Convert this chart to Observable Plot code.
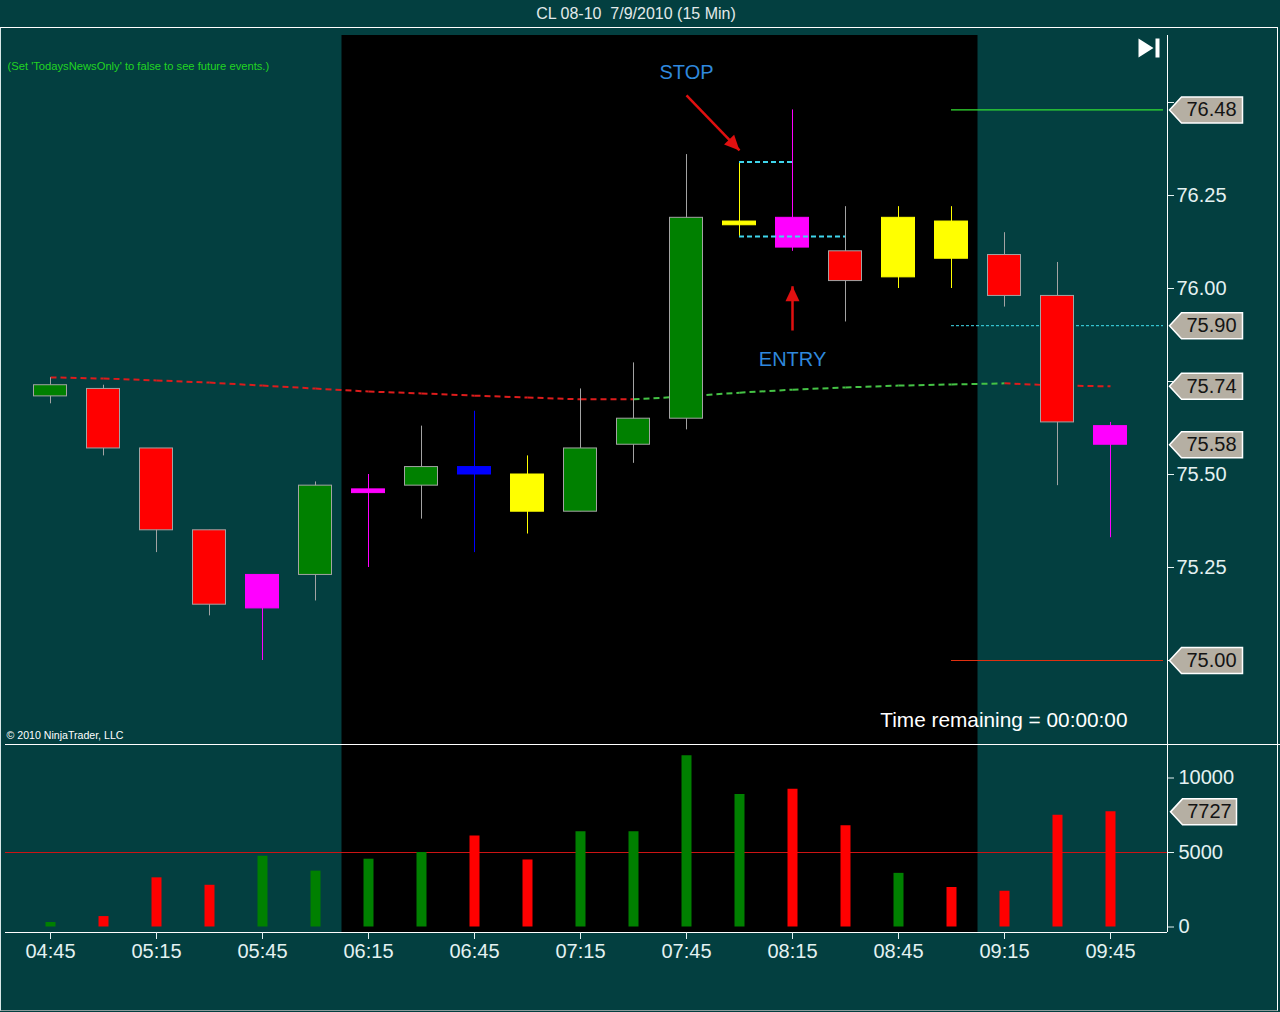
<!DOCTYPE html>
<html>
<head>
<meta charset="utf-8">
<script src="https://cdn.jsdelivr.net/npm/d3@7"></script>
<script src="https://cdn.jsdelivr.net/npm/@observablehq/plot@0.6"></script>
<style>
  html, body { margin: 0; padding: 0; background: #033f40; }
  body { width: 1280px; height: 1012px; overflow: hidden; font-family: Arial, "Liberation Sans", sans-serif; }
  #root { position: relative; width: 1280px; height: 1012px; }
  #title { position: absolute; left: 0; top: 0; width: 1272px; height: 27px; line-height: 27px; text-align: center; color: #e2eaea; font-size: 16px; }
  #frame { position: absolute; left: 0; top: 27px; width: 1276px; height: 982px; border-top: 1px solid #ffffff; border-left: 1px solid #d8e8e8; border-right: 1px solid #ffffff; border-bottom: 1px solid #8a9a9a; }
  #sep { position: absolute; left: 5px; top: 744px; width: 1275px; height: 1px; background: #ffffff; }
  #price { position: absolute; left: 0; top: 27px; }
  #volume { position: absolute; left: 0; top: 745px; }
</style>
</head>
<body>
<div id="root">
  <div id="title">CL 08-10&nbsp; 7/9/2010 (15 Min)</div>
  <div id="frame"></div>
  <div id="price"></div>
  <div id="sep"></div>
  <div id="volume"></div>
</div>
<script>
// ---------- data ----------
const times  = ["04:45","05:00","05:15","05:30","05:45","06:00","06:15","06:30","06:45","07:00","07:15",
                "07:30","07:45","08:00","08:15","08:30","08:45","09:00","09:15","09:30","09:45"];
const open   = [75.71,75.73,75.57,75.35,75.14,75.23,75.45,75.47,75.52,75.50,75.40,75.58,75.65,76.17,76.19,76.10,76.03,76.18,76.09,75.98,75.63];
const high   = [75.76,75.74,75.57,75.35,75.23,75.48,75.50,75.63,75.67,75.55,75.73,75.80,76.36,76.34,76.48,76.22,76.22,76.22,76.15,76.07,75.64];
const low    = [75.69,75.55,75.29,75.12,75.00,75.16,75.25,75.38,75.29,75.34,75.40,75.53,75.62,76.14,76.10,75.91,76.00,76.00,75.95,75.47,75.33];
const close  = [75.74,75.57,75.35,75.15,75.23,75.47,75.46,75.52,75.50,75.40,75.57,75.65,76.19,76.18,76.11,76.02,76.19,76.08,75.98,75.64,75.58];
const barPaint = ["up","down","down","down","magenta","up","magenta","up","blue","yellow","up",
                  "up","up","yellow","magenta","down","yellow","yellow","down","down","magenta"];
const volume = [300,700,3300,2800,4750,3750,4550,5000,6100,4500,6400,6400,11500,8900,9250,6800,3600,2650,2400,7500,7727];
const maValues = [75.761,75.758,75.753,75.747,75.739,75.731,75.723,75.718,75.712,75.707,75.702,
                  75.702,75.710,75.720,75.728,75.734,75.739,75.742,75.745,75.739,75.737];

const priceTicks  = [75.00,75.25,75.50,75.75,76.00,76.25,76.50];
const volumeTicks = [0,5000,10000];
const timeTicks   = ["04:45","05:15","05:45","06:15","06:45","07:15","07:45","08:15","08:45","09:15","09:45"];

const session     = {from: "06:07:30", to: "09:07:30"};
const pivotLevel  = 75.90;
const levelSpan   = {from: "09:00", to: "10:00"};
const volumeRef   = 5000;
const stopBracket = [{price: 76.34, from: "08:00", to: "08:15"},
                     {price: 76.14, from: "08:00", to: "08:30"}];
const notes  = [{text: "STOP",  time: "07:45", price: 76.58},
                {text: "ENTRY", time: "08:15", price: 75.81}];
const arrows = [{t1: "07:45", p1: 76.519, t2: "08:00", p2: 76.371},
                {t1: "08:15", p1: 75.887, t2: "08:15", p2: 76.006}];

// ---------- helpers ----------
const parse = s => { const [h, m, sec] = s.split(":").map(Number); return new Date(Date.UTC(2010, 6, 9, h, m, sec || 0)); };
const candles = times.map((s, i) => ({t: parse(s), o: open[i], h: high[i], l: low[i], c: close[i], paint: barPaint[i], v: volume[i], ma: maValues[i]}));

// layout constants (pixels)
const msPerPx = 15 * 60000 / 53;       // 53 px per 15-minute bar
const pxPerPrice = 372;                // px per 1.00 price
const xDomain = [new Date(+candles[0].t - 45 * msPerPx), new Date(+candles[candles.length - 1].t + 57 * msPerPx)];
const yPriceDomain = [76 - 456 / pxPerPrice, 76 + 253 / pxPerPrice];
const yVolDomain = [-5.5 / 0.0149, 181.5 / 0.0149];
const HALF = 16.5 * msPerPx;

const PAINT = {up: "#008000", down: "#ff0000", magenta: "#ff00ff", yellow: "#ffff00", blue: "#0000ff"};
const outline = d => (d.paint === "up" || d.paint === "down") ? "#a3a3a3" : PAINT[d.paint];
const TXT = "#e4f2f2";
const FONT = "Arial, 'Liberation Sans', sans-serif";

const sessionHigh = d3.max(high);
const sessionLow  = d3.min(low);
const maLast = maValues[maValues.length - 1];
const lastClose = close[close.length - 1];
const lastVolume = volume[volume.length - 1];
const priceTags = [sessionHigh, pivotLevel, maLast, lastClose, sessionLow];
// tick labels that sit underneath a price tag are hidden (the tag covers them)
const covered = v => priceTags.some(p => Math.abs(p - v) * pxPerPrice < 14);

const maSegs = d3.pairs(candles).map(([a, b]) => ({t1: a.t, t2: b.t, v1: a.ma, v2: b.ma}));

const tagSymbol = w => ({draw(ctx) { ctx.moveTo(0, 0); ctx.lineTo(12, -13); ctx.lineTo(w, -13); ctx.lineTo(w, 13); ctx.lineTo(12, 13); ctx.closePath(); }});
const headSymbol = {draw(ctx) { ctx.moveTo(0, 0); ctx.lineTo(7, 15); ctx.lineTo(-7, 15); ctx.closePath(); }};
const iconSymbol = {draw(ctx) { ctx.moveTo(-10.5, -9.5); ctx.lineTo(4.5, 0); ctx.lineTo(-10.5, 9.5); ctx.closePath(); ctx.rect(6.5, -9.5, 4, 19); }};
const arrowAngle = d => {
  const dx = (parse(d.t2) - parse(d.t1)) / msPerPx;
  const dy = (d.p1 - d.p2) * pxPerPrice;
  return Math.atan2(dx, -dy) * 180 / Math.PI;
};

const style = {background: "transparent", color: TXT, fontFamily: FONT, overflow: "visible"};

// ---------- price panel ----------
const priceChart = Plot.plot({
  width: 1280, height: 718,
  marginLeft: 5, marginRight: 113, marginTop: 8, marginBottom: 1,
  style,
  x: {type: "utc", domain: xDomain, axis: null, label: null},
  y: {domain: yPriceDomain, label: null},
  color: {type: "identity"},
  marks: [
    Plot.rect([session], {x1: d => parse(d.from), x2: d => parse(d.to), fill: "#000000"}),
    Plot.ruleY([sessionHigh], {x1: () => parse(levelSpan.from), x2: () => parse(levelSpan.to), stroke: "#33e033", strokeWidth: 1.2}),
    Plot.ruleY([pivotLevel], {x1: () => parse(levelSpan.from), x2: () => parse(levelSpan.to), stroke: "#40e0f0", strokeWidth: 1, strokeDasharray: "3,2"}),
    Plot.ruleY([sessionLow], {x1: () => parse(levelSpan.from), x2: () => parse(levelSpan.to), stroke: "#e03010", strokeWidth: 1.2}),
    Plot.link(maSegs, {x1: "t1", y1: "v1", x2: "t2", y2: "v2", stroke: d => d.v2 > d.v1 ? "#45c245" : "#dd1c1c", strokeWidth: 2, strokeDasharray: "6,4"}),
    Plot.ruleX(candles, {x: "t", y1: "l", y2: "h", stroke: outline, strokeWidth: 1}),
    Plot.rect(candles, {x1: d => new Date(+d.t - HALF), x2: d => new Date(+d.t + HALF),
                        y1: d => Math.min(d.o, d.c), y2: d => Math.max(d.o, d.c),
                        fill: d => PAINT[d.paint], stroke: outline, strokeWidth: 1}),
    Plot.ruleY(stopBracket, {y: "price", x1: d => parse(d.from), x2: d => parse(d.to), stroke: "#3fd6ec", strokeWidth: 2, strokeDasharray: "5,3"}),
    Plot.link(arrows, {x1: d => parse(d.t1), y1: "p1", x2: d => parse(d.t2), y2: "p2", stroke: "#e01010", strokeWidth: 2.5}),
    Plot.dot(arrows, {x: d => parse(d.t2), y: "p2", symbol: headSymbol, rotate: arrowAngle, fill: "#e01010", stroke: "none", r: 1}),
    Plot.text(notes, {x: d => parse(d.time), y: "price", text: "text", fill: "#2f88dd", fontSize: 20}),
    Plot.ruleX([xDomain[1]], {stroke: "#ffffff", strokeWidth: 1}),
    Plot.axisY(priceTicks, {anchor: "right", tickSize: 6, tickPadding: 3, tickFormat: d => covered(d) ? "" : d.toFixed(2), fontSize: 20, color: TXT, label: null}),
    Plot.dot(priceTags, {y: d => d, frameAnchor: "right", dx: 2, symbol: tagSymbol(73), fill: "#b5afa3", stroke: "#ffffff", strokeWidth: 1.5, r: 1}),
    Plot.text(priceTags, {y: d => d, text: d => d.toFixed(2), frameAnchor: "right", dx: 44, textAnchor: "middle", lineAnchor: "middle", fontSize: 20, fill: "#141414"}),
    Plot.dot([0], {frameAnchor: "top-right", dx: -18.5, dy: 12.5, symbol: iconSymbol, fill: "#ffffff", stroke: "none", r: 1}),
    Plot.text(["Time remaining = 00:00:00"], {frameAnchor: "bottom-right", dx: -40, dy: -24, textAnchor: "end", lineAnchor: "middle", fontSize: 20.8, fill: "#ffffff"}),
    Plot.text(["(Set 'TodaysNewsOnly' to false to see future events.)"], {frameAnchor: "top-left", dx: 2, dy: 31, textAnchor: "start", lineAnchor: "middle", fontSize: 11.2, fill: "#22d422"}),
    Plot.text(["© 2010 NinjaTrader, LLC"], {frameAnchor: "bottom-left", dx: 1, dy: -9, textAnchor: "start", lineAnchor: "middle", fontSize: 10.6, fill: "#ffffff"})
  ]
});
document.getElementById("price").append(priceChart);

// ---------- volume panel ----------
const volChart = Plot.plot({
  width: 1280, height: 267,
  marginLeft: 5, marginRight: 113, marginTop: 0, marginBottom: 80,
  style,
  x: {type: "utc", domain: xDomain, label: null},
  y: {domain: yVolDomain, label: null},
  color: {type: "identity"},
  marks: [
    Plot.rect([session], {x1: d => parse(d.from), x2: d => parse(d.to), fill: "#000000"}),
    Plot.ruleY([volumeRef], {stroke: "#cc1414", strokeWidth: 1}),
    Plot.ruleX(candles, {x: "t", y1: 0, y2: "v", stroke: d => d.c >= d.o ? "#008000" : "#ff0000", strokeWidth: 10}),
    Plot.ruleX([xDomain[1]], {stroke: "#ffffff", strokeWidth: 1}),
    Plot.ruleY([yVolDomain[0]], {stroke: "#ffffff", strokeWidth: 1}),
    Plot.axisY(volumeTicks, {anchor: "right", tickSize: 6, tickPadding: 5, tickFormat: d3.format("d"), fontSize: 20, color: TXT, label: null}),
    Plot.dot([lastVolume], {y: d => d, frameAnchor: "right", dx: 3, symbol: tagSymbol(66), fill: "#b5afa3", stroke: "#ffffff", strokeWidth: 1.5, r: 1}),
    Plot.text([lastVolume], {y: d => d, text: d => String(d), frameAnchor: "right", dx: 42, textAnchor: "middle", lineAnchor: "middle", fontSize: 20, fill: "#141414"}),
    Plot.axisX(timeTicks.map(parse), {anchor: "bottom", tickSize: 7, tickPadding: 4, tickFormat: d3.utcFormat("%H:%M"), fontSize: 20, color: TXT, label: null})
  ]
});
document.getElementById("volume").append(volChart);
</script>
</body>
</html>
